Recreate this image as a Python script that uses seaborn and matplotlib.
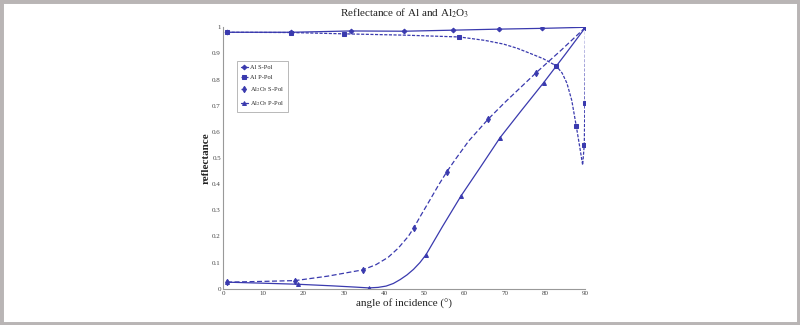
import matplotlib
matplotlib.use("Agg")
import matplotlib.pyplot as plt
import seaborn as sns
import pandas as pd
from matplotlib.patches import Rectangle

# Reflectance vs. angle of incidence (degrees)
al_s_angle = [1, 17, 31.7, 45, 57, 68.5, 79.3, 90]
al_s_refl = [0.981, 0.981, 0.986, 0.985, 0.989, 0.993, 0.996, 1.0]
al_s_marks = [0, 1, 2, 3, 4, 5, 6, 7]

al_p_angle = [1, 17, 30, 45, 58.7, 65, 69.6, 73, 76.3, 79.5, 82.7, 84.2, 85.4,
              86.6, 87.7, 88.6, 89.3, 89.7, 89.85, 90]
al_p_refl = [0.981, 0.980, 0.975, 0.970, 0.963, 0.950, 0.936, 0.920, 0.900, 0.880,
             0.853, 0.825, 0.786, 0.720, 0.623, 0.540, 0.473, 0.551, 0.709, 1.0]
al_p_marks = [0, 1, 2, 4, 10, 14, 17, 18, 19]

ox_s_angle = [1, 10, 17.9, 26, 34.7, 38, 41, 43.5, 46, 47.3, 49.3, 51.4, 53.5,
              55.6, 57.8, 61, 65.8, 70, 77.8, 84, 90]
ox_s_refl = [0.025, 0.028, 0.031, 0.048, 0.072, 0.092, 0.120, 0.155, 0.200, 0.231,
             0.285, 0.340, 0.396, 0.448, 0.497, 0.565, 0.648, 0.713, 0.827, 0.913, 1.0]
ox_s_marks = [0, 2, 4, 9, 13, 16, 18, 20]

ox_p_angle = [1, 10, 18.6, 27, 33, 36.2, 38.5, 40.5, 42.3, 44, 45.7, 47.3, 48.9,
              50.4, 54.5, 59.1, 64, 68.8, 74, 79.6, 85, 90]
ox_p_refl = [0.025, 0.021, 0.017, 0.011, 0.006, 0.003, 0.005, 0.010, 0.020, 0.035,
             0.053, 0.074, 0.100, 0.130, 0.238, 0.355, 0.467, 0.578, 0.680, 0.788,
             0.897, 1.0]
ox_p_marks = [0, 2, 5, 13, 15, 17, 19, 21]

x_ticks = [0, 10, 20, 30, 40, 50, 60, 70, 80, 90]
y_ticks = [0, 0.1, 0.2, 0.3, 0.4, 0.5, 0.6, 0.7, 0.8, 0.9, 1]
y_tick_labels = ["0", "0.1", "0.2", "0.3", "0.4", "0.5", "0.6", "0.7", "0.8", "0.9", "1"]

sns.set_style("white")
plt.rcParams["font.family"] = ["Liberation Serif", "DejaVu Serif"]
plt.rcParams["mathtext.fontset"] = "stix"

color = "#3a3aae"
fig = plt.figure(figsize=(8, 3.25), dpi=100)
ax = fig.add_axes([0.27875, 0.1117, 0.4531, 0.8043])

series = [
    ("Al S-Pol", al_s_angle, al_s_refl, al_s_marks, "D", "-", 2.4),
    ("Al P-Pol", al_p_angle, al_p_refl, al_p_marks, "s", (0, (2.5, 1.2)), 2.8),
    ("Al$_2$O$_3$ S-Pol", ox_s_angle, ox_s_refl, ox_s_marks, "d", (0, (4, 2)), 3.2),
    ("Al$_2$O$_3$ P-Pol", ox_p_angle, ox_p_refl, ox_p_marks, "^", "-", 2.8),
]

for label, ang, refl, marks, mk, ls, ms in series:
    df = pd.DataFrame({"angle": ang, "reflectance": refl})
    sns.lineplot(data=df, x="angle", y="reflectance", ax=ax, sort=False,
                 estimator=None, color=color, lw=0.9, linestyle=ls,
                 marker=mk, markersize=ms, markevery=marks,
                 markeredgecolor=color, markerfacecolor=color, label=label)

ax.set_xlim(0, 90)
ax.set_ylim(0, 1)
ax.set_xticks(x_ticks)
ax.set_xticklabels([str(t) for t in x_ticks])
ax.set_yticks(y_ticks)
ax.set_yticklabels(y_tick_labels)
ax.tick_params(direction="in", length=3, width=0.6, labelsize=5,
               colors="#777777", labelcolor="#444444", pad=1.5)
for side in ("top", "right"):
    ax.spines[side].set_visible(False)
for side in ("left", "bottom"):
    ax.spines[side].set_color("#999999")
    ax.spines[side].set_linewidth(0.8)

ax.set_title("Reflectance of Al and Al$_2$O$_3$", fontsize=8, pad=8, color="#222222")
ax.set_xlabel("angle of incidence (°)", fontsize=8, labelpad=2, color="#222222")
ax.set_ylabel("reflectance", fontsize=8, labelpad=1, color="#222222", fontweight="bold")

leg = ax.legend(loc="upper left", bbox_to_anchor=(0.038, 0.872), fontsize=4.6,
                frameon=True, fancybox=False, edgecolor="#999999",
                handlelength=1.2, handletextpad=0.25, borderpad=0.6,
                labelspacing=0.75, borderaxespad=0)
leg.get_frame().set_linewidth(0.6)

# gray picture frame
fig.patches.append(Rectangle((0, 0), 1, 1, transform=fig.transFigure,
                             fill=False, edgecolor="#b9b5b5", linewidth=5,
                             zorder=10))

fig.savefig("out.png", dpi=100, facecolor="white")
